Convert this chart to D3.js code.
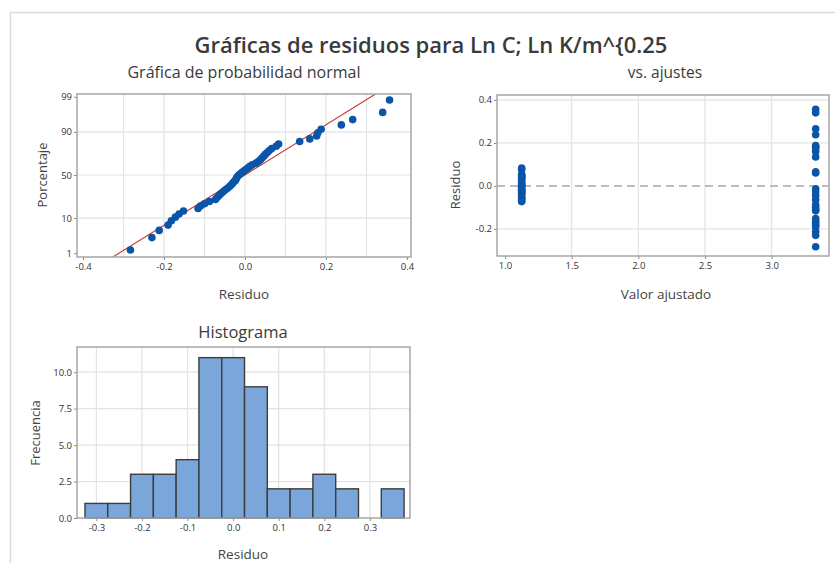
<!DOCTYPE html>
<html><head><meta charset="utf-8">
<script src="https://cdn.jsdelivr.net/npm/d3@7"></script>
<style>
body{margin:0;background:#fff;}
svg{display:block;font-family:"Open Sans","Noto Sans",sans-serif;}
</style>
</head><body>
<svg id="c" width="835" height="563"></svg>
<script>
// ---------- DATA ----------
const titleText = "Gráficas de residuos para Ln C; Ln K/m^{0.25";
// residuals for the observations whose fitted value is ≈ 1.125
const residualsLow = [-0.073,-0.069,-0.060,-0.055,-0.050,-0.039,-0.035,-0.031,-0.024,-0.022,-0.020,-0.017,
  -0.008,-0.003,0.002,0.007,0.012,0.018,0.027,0.033,0.038,0.042,0.046,0.050,0.055,0.077,0.083];
// residuals for the observations whose fitted value is ≈ 3.33
const residualsHigh = [-0.283,-0.230,-0.212,-0.190,-0.182,-0.172,-0.163,-0.152,-0.116,-0.110,-0.100,-0.088,
  -0.064,-0.044,-0.028,-0.013,0.060,0.066,0.135,0.160,0.177,0.180,0.188,0.238,0.266,0.340,0.357];
const fittedValues = [1.125, 3.33];

const probYTicks = [1, 10, 50, 90, 99];
const probXTicks = [-0.4, -0.2, 0.0, 0.2, 0.4];
const probXGrid = [-0.3, -0.2, -0.1, 0.0, 0.1, 0.2, 0.3];

const fitXTicks = [1.0, 1.5, 2.0, 2.5, 3.0];
const fitYTicks = [-0.2, 0.0, 0.2, 0.4];

const histMidpoints = [-0.30,-0.25,-0.20,-0.15,-0.10,-0.05,0.00,0.05,0.10,0.15,0.20,0.25,0.30,0.35];
const histCounts    = [1, 1, 3, 3, 4, 11, 11, 9, 2, 2, 3, 2, 0, 2];
const histXTicks = [-0.3, -0.2, -0.1, 0.0, 0.1, 0.2, 0.3];
const histYTicks = [0, 2.5, 5, 7.5, 10];

// ---------- helpers ----------
function normInv(p){
  const a=[-3.969683028665376e+01,2.209460984245205e+02,-2.759285104469687e+02,1.383577518672690e+02,-3.066479806614716e+01,2.506628277459239e+00];
  const b=[-5.447609879822406e+01,1.615858368580409e+02,-1.556989798598866e+02,6.680131188771972e+01,-1.328068155288572e+01];
  const c=[-7.784894002430293e-03,-3.223964580411365e-01,-2.400758277161838e+00,-2.549732539343734e+00,4.374664141464968e+00,2.938163982698783e+00];
  const d=[7.784695709041462e-03,3.224671290700398e-01,2.445134137142996e+00,3.754408661907416e+00];
  const pl=0.02425, ph=1-pl; let q,r;
  if(p<pl){q=Math.sqrt(-2*Math.log(p));return (((((c[0]*q+c[1])*q+c[2])*q+c[3])*q+c[4])*q+c[5])/((((d[0]*q+d[1])*q+d[2])*q+d[3])*q+1);}
  if(p<=ph){q=p-0.5;r=q*q;return (((((a[0]*r+a[1])*r+a[2])*r+a[3])*r+a[4])*r+a[5])*q/(((((b[0]*r+b[1])*r+b[2])*r+b[3])*r+b[4])*r+1);}
  q=Math.sqrt(-2*Math.log(1-p));return -(((((c[0]*q+c[1])*q+c[2])*q+c[3])*q+c[4])*q+c[5])/((((d[0]*q+d[1])*q+d[2])*q+d[3])*q+1);
}
const fmt1 = v => (Math.abs(v)<1e-9?0:v).toFixed(1);

const svg = d3.select("#c");
const TXT = "#333", GRID = "#e3e3e3", FRAME = "#a6a6a6", DOT = "#0a55a8";

// outer border
svg.append("path").attr("d","M10.5,563 V12.5 H835").attr("fill","none").attr("stroke","#dcdcdc").attr("stroke-width",1.5);

// main title
svg.append("text").attr("x",431).attr("y",53).attr("text-anchor","middle")
  .attr("font-size",22).attr("font-weight",600).attr("fill","#3a3a3a").text(titleText);

function panel(g, x, y, opts){
  g.append("g").selectAll("line").data(opts.xGrid).join("line")
    .attr("x1",d=>x(d)).attr("x2",d=>x(d)).attr("y1",y.range()[0]).attr("y2",y.range()[1])
    .attr("stroke",GRID).attr("stroke-width",1.2);
  g.append("g").selectAll("line").data(opts.yGrid).join("line")
    .attr("y1",d=>y(d)).attr("y2",d=>y(d)).attr("x1",x.range()[0]).attr("x2",x.range()[1])
    .attr("stroke",GRID).attr("stroke-width",1.2);
}
function axes(g, x, y, opts){
  const xa = d3.axisBottom(x).tickValues(opts.xTicks).tickSize(3).tickPadding(3).tickFormat(opts.xFmt);
  const ya = d3.axisLeft(y).tickValues(opts.yTicks).tickSize(3).tickPadding(2).tickFormat(opts.yFmt);
  const gx = g.append("g").attr("transform",`translate(0,${y.range()[0]})`).call(xa);
  const gy = g.append("g").attr("transform",`translate(${x.range()[0]},0)`).call(ya);
  [gx,gy].forEach(a=>{
    a.select(".domain").remove();
    a.selectAll(".tick line").attr("stroke","#8a8a8a");
    a.selectAll("text").attr("fill",TXT).attr("font-size",9.5).attr("font-family","'Open Sans',sans-serif");
  });
  g.append("rect").attr("x",x.range()[0]).attr("y",y.range()[1])
    .attr("width",x.range()[1]-x.range()[0]).attr("height",y.range()[0]-y.range()[1])
    .attr("fill","none").attr("stroke",FRAME).attr("stroke-width",1.5);
}
function labels(g, title, tx, ty, xl, xlx, xly, yl, ylx, yly, tsize){
  g.append("text").attr("x",tx).attr("y",ty).attr("text-anchor","middle").attr("font-size",tsize)
    .attr("fill","#3a3a3a").text(title);
  g.append("text").attr("x",xlx).attr("y",xly).attr("text-anchor","middle").attr("font-size",13.5)
    .attr("fill","#444").text(xl);
  g.append("text").attr("transform",`translate(${ylx},${yly}) rotate(-90)`).attr("text-anchor","middle")
    .attr("font-size",13).attr("fill","#444").text(yl);
}

// ---------- Normal probability plot ----------
{
  const g = svg.append("g");
  const all = residualsLow.concat(residualsHigh).slice().sort(d3.ascending);
  const n = all.length;
  const pts = all.map((v,i)=>({v, z: normInv((i+1-0.3)/(n+0.4))}));
  const x = d3.scaleLinear().domain([-0.415,0.41]).range([77,411]);
  const y = d3.scaleLinear().domain([-2.44,2.41]).range([257,94]);
  const zt = probYTicks.map(p=>normInv(p/100));
  panel(g,x,y,{xGrid:probXGrid,yGrid:zt.slice(1,4)});
  const mean = d3.mean(all), sd = d3.deviation(all);
  g.append("clipPath").attr("id","clipP").append("rect").attr("x",77).attr("y",94).attr("width",334).attr("height",163);
  g.append("line").attr("clip-path","url(#clipP)")
    .attr("x1",x(mean+sd*y.domain()[0])).attr("y1",y(y.domain()[0]))
    .attr("x2",x(mean+sd*y.domain()[1])).attr("y2",y(y.domain()[1]))
    .attr("stroke","#c0392f").attr("stroke-width",1.1);
  g.append("g").selectAll("circle").data(pts).join("circle")
    .attr("cx",d=>x(d.v)).attr("cy",d=>y(d.z)).attr("r",3.8).attr("fill",DOT);
  axes(g,x,y,{xTicks:probXTicks,yTicks:zt,xFmt:fmt1,yFmt:(d,i)=>String(probYTicks[i])});
  labels(g,"Gráfica de probabilidad normal",244,78,"Residuo",244,299,"Porcentaje",47,175,16);
}

// ---------- vs fits ----------
{
  const g = svg.append("g");
  const x = d3.scaleLinear().domain([0.94,3.43]).range([497,829]);
  const y = d3.scaleLinear().domain([-0.326,0.423]).range([256,95]);
  panel(g,x,y,{xGrid:fitXTicks.slice(1),yGrid:[-0.2,0.2,0.4]});
  g.append("line").attr("x1",497).attr("x2",829).attr("y1",y(0)).attr("y2",y(0))
    .attr("stroke","#bdbdbd").attr("stroke-width",2).attr("stroke-dasharray","8,5");
  const pts = residualsLow.map(r=>({f:fittedValues[0],r})).concat(residualsHigh.map(r=>({f:fittedValues[1],r})));
  g.append("g").selectAll("circle").data(pts).join("circle")
    .attr("cx",d=>x(d.f)).attr("cy",d=>y(d.r)).attr("r",3.8).attr("fill",DOT);
  axes(g,x,y,{xTicks:fitXTicks,yTicks:fitYTicks,xFmt:fmt1,yFmt:fmt1});
  labels(g,"vs. ajustes",665,78,"Valor ajustado",666,299,"Residuo",460,185,15.5);
}

// ---------- Histogram ----------
{
  const g = svg.append("g");
  const x = d3.scaleLinear().domain([-0.3425,0.388]).range([77,410]);
  const y = d3.scaleLinear().domain([0,11.73]).range([518,347]);
  panel(g,x,y,{xGrid:histXTicks,yGrid:histYTicks.slice(1)});
  const w = 0.05;
  g.append("g").selectAll("rect").data(histMidpoints.map((m,i)=>({m,c:histCounts[i]})).filter(d=>d.c>0)).join("rect")
    .attr("x",d=>x(d.m-w/2)).attr("width",d=>x(d.m+w/2)-x(d.m-w/2))
    .attr("y",d=>y(d.c)).attr("height",d=>y(0)-y(d.c))
    .attr("fill","#7aa6da").attr("stroke","#3c3c3c").attr("stroke-width",1.4);
  axes(g,x,y,{xTicks:histXTicks,yTicks:histYTicks,xFmt:fmt1,yFmt:fmt1});
  labels(g,"Histograma",243,338,"Residuo",243,559,"Frecuencia",40,433,16.5);
}
</script>
</body></html>
